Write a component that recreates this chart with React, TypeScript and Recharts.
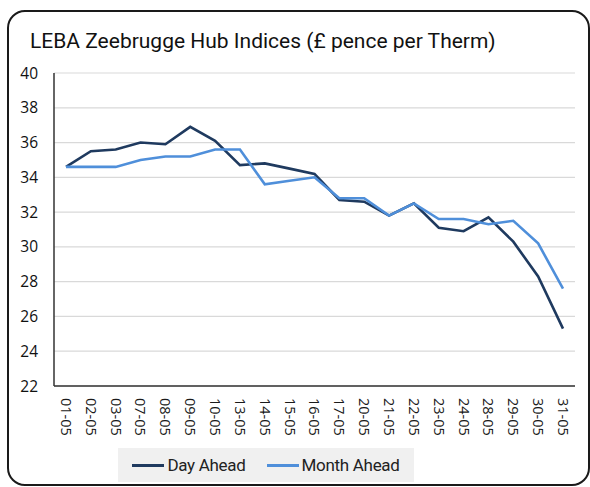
import React from 'react';
import { LineChart, Line, XAxis, YAxis, CartesianGrid } from 'recharts';

const dates = ['01-05', '02-05', '03-05', '07-05', '08-05', '09-05', '10-05', '13-05', '14-05', '15-05', '16-05',
  '17-05', '20-05', '21-05', '22-05', '23-05', '24-05', '28-05', '29-05', '30-05', '31-05'];
const dayAhead = [34.6, 35.5, 35.6, 36.0, 35.9, 36.9, 36.1, 34.7, 34.8, 34.5, 34.2,
  32.7, 32.6, 31.8, 32.5, 31.1, 30.9, 31.7, 30.3, 28.3, 25.3];
const monthAhead = [34.6, 34.6, 34.6, 35.0, 35.2, 35.2, 35.6, 35.6, 33.6, 33.8, 34.0,
  32.8, 32.8, 31.8, 32.5, 31.6, 31.6, 31.3, 31.5, 30.2, 27.6];
const yTicks = [22, 24, 26, 28, 30, 32, 34, 36, 38, 40];

const series = [
  { key: 'dayAhead', name: 'Day Ahead', color: '#1F3A5F' },
  { key: 'monthAhead', name: 'Month Ahead', color: '#4F8FDA' },
];

const data = dates.map((d, i) => ({ date: d, dayAhead: dayAhead[i], monthAhead: monthAhead[i] }));

// rotated date label, reads top to bottom
const DateTick = (props: any) => {
  const { x, y, payload } = props;
  return (
    <g transform={`translate(${x},${y})`}>
      <text transform="rotate(90)" x={0} y={0} dy="0.35em" textAnchor="start"
        fontFamily="Open Sans" fontSize={14.5} fill="#1a1a1a">
        {payload.value}
      </text>
    </g>
  );
};

const App = () => {
  return (
    <div style={{
      position: 'absolute', left: 7, top: 10, width: 583, height: 476, boxSizing: 'border-box',
      border: '2px solid #1a1a1a', borderRadius: 18, background: '#fff',
    }}>
      <div style={{
        position: 'absolute', left: 21, top: 17, fontFamily: 'Roboto', fontSize: 21,
        color: '#111', letterSpacing: 0, whiteSpace: 'nowrap',
      }}>
        LEBA Zeebrugge Hub Indices (£ pence per Therm)
      </div>
      <div style={{ position: 'absolute', left: 0, top: 0 }}>
        <LineChart width={578} height={472} data={data} margin={{ top: 61, right: 12, left: 0, bottom: 0 }}>
          <CartesianGrid vertical={false} stroke="#d9d9d9" strokeWidth={1.2} />
          <XAxis dataKey="date" interval={0} height={98} padding={{ left: 12, right: 12 }}
            axisLine={{ stroke: '#333', strokeWidth: 1.5 }} tickLine={false} tickMargin={6}
            tick={<DateTick />} />
          <YAxis domain={[22, 40]} ticks={yTicks} width={45} axisLine={{ stroke: '#333', strokeWidth: 1.5 }}
            tickLine={false} tickMargin={10}
            tick={{ fontFamily: 'Open Sans', fontSize: 15.5, fill: '#111' }} />
          {series.map(s => (
            <Line key={s.key} type="linear" dataKey={s.key} name={s.name} stroke={s.color}
              strokeWidth={2.6} dot={false} isAnimationActive={false} />
          ))}
        </LineChart>
      </div>
      <div style={{
        position: 'absolute', left: 109, top: 436, width: 296, height: 34, background: '#f0f0f0',
        display: 'flex', alignItems: 'center', justifyContent: 'center', gap: 21,
        fontFamily: 'Roboto', fontSize: 17, color: '#222', letterSpacing: -0.3,
      }}>
        {series.map(s => (
          <div key={s.key} style={{ display: 'flex', alignItems: 'center', gap: 3 }}>
            <div style={{ width: 32, height: 3, background: s.color }} />
            <span>{s.name}</span>
          </div>
        ))}
      </div>
    </div>
  );
};

export default App;
